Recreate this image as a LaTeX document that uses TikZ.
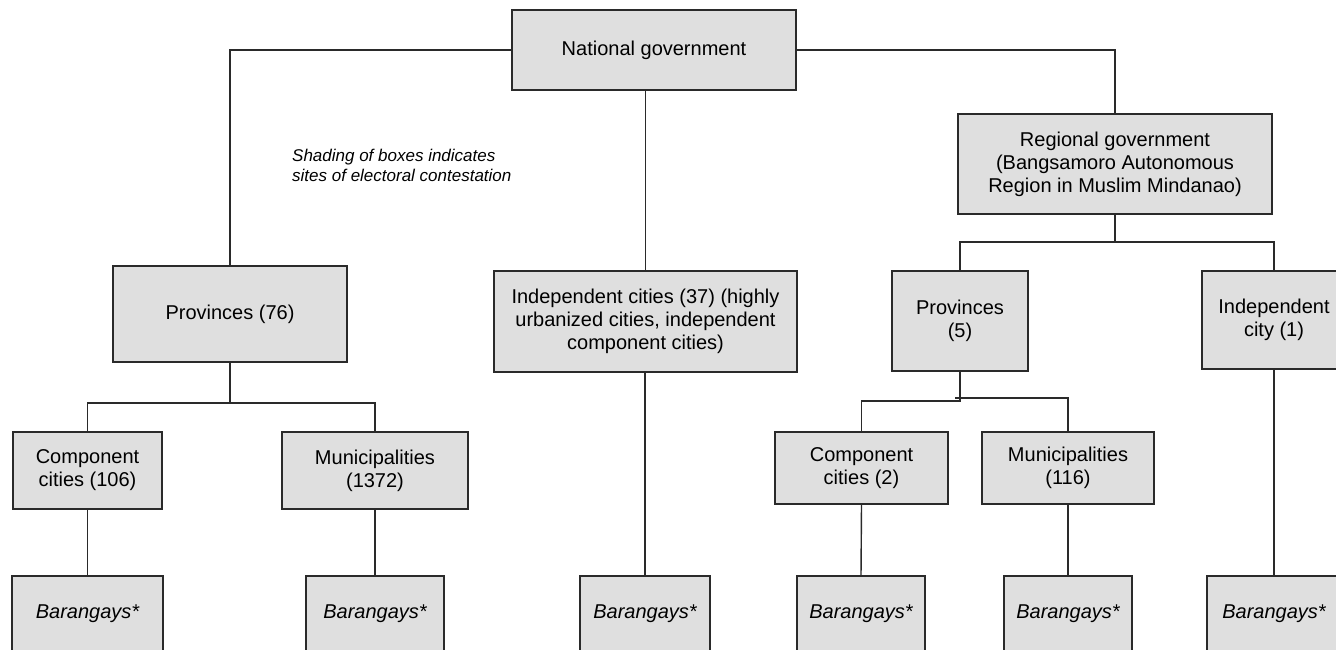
\documentclass[tikz,border=0pt]{standalone}
\usepackage{fontspec}
\setmainfont{Liberation Sans}
\definecolor{boxfill}{HTML}{DFDFDF}
\definecolor{ink}{HTML}{2A2A2A}
\tikzset{
  govbox/.style={draw=ink, fill=boxfill, line width=1.4pt, inner sep=0pt, outer sep=0pt,
    align=center, font=\fontsize{20}{23}\selectfont},
  barbox/.style={govbox, minimum height=75pt, font=\fontsize{20}{23}\selectfont\itshape},
  link/.style={draw=ink, line width=1.4pt}
}
\begin{document}
\begin{tikzpicture}[x=1pt,y=-1pt]
\useasboundingbox (0,0) rectangle (1336,650);
\clip (0,0) rectangle (1336,650);
\fill[white] (0,0) rectangle (1336,650);

% top levels
\node[govbox, minimum width=284pt, minimum height=80pt] (nat) at (654,50) {National government};
\node[govbox, minimum width=234pt, minimum height=96pt] (p76) at (230,314) {Provinces (76)};
\node[govbox, minimum width=303pt, minimum height=101pt] (ic) at (645.5,321.5)
  {Independent cities (37) (highly\\urbanized cities, independent\\component cities)};
\node[govbox, minimum width=314pt, minimum height=100pt] (reg) at (1115,164)
  {Regional government\\(Bangsamoro Autonomous\\Region in Muslim Mindanao)};
\node[govbox, minimum width=136pt, minimum height=100pt] (p5) at (960,321) {Provinces\\(5)};
\node[govbox, minimum width=144pt, minimum height=98pt] (ic1) at (1274,320) {Independent\\city (1)};

% second level
\node[govbox, minimum width=149pt, minimum height=77pt] (cc1) at (87.5,470.5) {Component\\cities (106)};
\node[govbox, minimum width=186pt, minimum height=77pt] (mu1) at (375,470.5) {Municipalities\\(1372)};
\node[govbox, minimum width=173pt, minimum height=72pt] (cc2) at (861.5,468) {Component\\cities (2)};
\node[govbox, minimum width=172pt, minimum height=72pt] (mu2) at (1068,468) {Municipalities\\(116)};

% barangays
\node[barbox, minimum width=151pt] (b1) at (87.5,613.5) {Barangays*};
\node[barbox, minimum width=138pt] (b2) at (375,613.5) {Barangays*};
\node[barbox, minimum width=130pt] (b3) at (645,613.5) {Barangays*};
\node[barbox, minimum width=128pt] (b4) at (861,613.5) {Barangays*};
\node[barbox, minimum width=128pt] (b5) at (1068,613.5) {Barangays*};
\node[barbox, minimum width=134pt] (b6) at (1274,613.5) {Barangays*};

% note
\node[anchor=north west, align=left, inner sep=0pt, font=\fontsize{17}{19.5}\selectfont\itshape]
  (note) at (292,149) {Shading of boxes indicates\\sites of electoral contestation};

% connectors
\path[link] (nat.west) -| (p76.north);
\path[link] (nat.east) -| (reg.north);
\path[link] (nat.south -| ic.north) -- (ic.north);

\coordinate (j1) at (230,403);
\path[link] (p76.south) -- (j1);
\path[link] (cc1.north) |- (j1) -| (mu1.north);

\coordinate (j2) at (1115,242);
\path[link] (reg.south) -- (j2);
\path[link] (p5.north) |- (j2) -| (ic1.north);

\coordinate (j3) at (960,401);
\coordinate (j4) at (955,398);
\path[link] (p5.south) -- (j3) -| (cc2.north);
\path[link] (j4) -| (mu2.north);

\path[link] (cc1.south) -- (b1.north);
\path[link] (mu1.south) -- (b2.north);
\path[link] (ic.south -| b3.north) -- (b3.north);
\path[link] (cc2.south) -- (b4.north);
\path[link] (mu2.south) -- (b5.north);
\path[link] (ic1.south) -- (b6.north);
\end{tikzpicture}
\end{document}
